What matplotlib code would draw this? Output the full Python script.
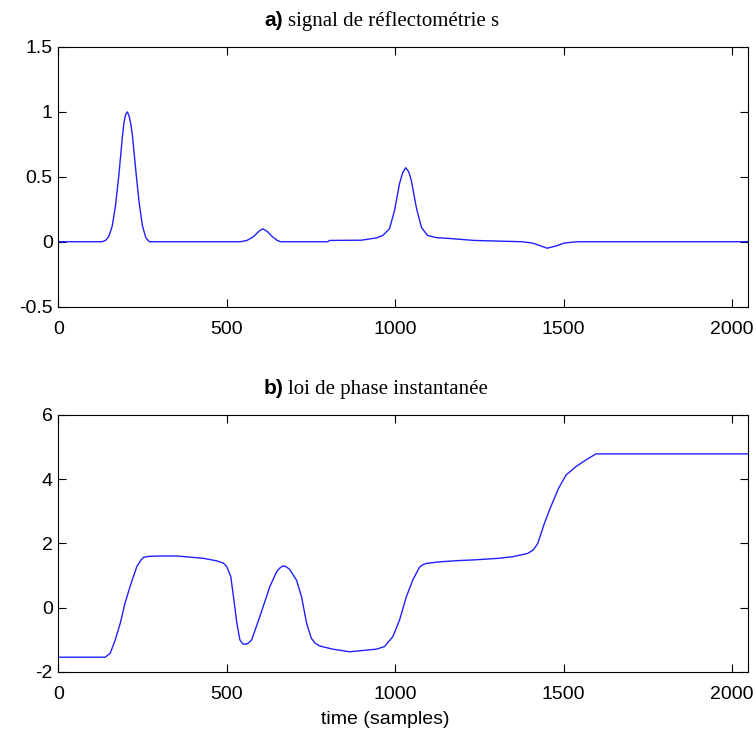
import matplotlib
matplotlib.use('Agg')
import matplotlib.pyplot as plt
import numpy as np

# ==========================================
# DATOS
# ==========================================
# a) signal de réflectométrie s
s_t = [0, 130, 140, 150, 160, 170, 180, 190, 195, 200, 205, 210, 215, 220, 230, 240, 250,
       260, 270,
       540, 560, 580, 595, 607, 620, 635, 650, 660, 800, 805, 900, 945, 963, 983, 998, 1013,
       1022, 1031, 1040, 1048, 1063, 1078, 1096, 1122, 1161, 1235, 1377, 1407, 1430, 1451,
       1481, 1502, 1540, 2048]
s_val = [0, 0, 0.01, 0.04, 0.12, 0.28, 0.52, 0.80, 0.92, 0.98, 1.0, 0.97, 0.91, 0.82, 0.55,
         0.30, 0.12, 0.03, 0.0,
         0.0, 0.01, 0.04, 0.08, 0.10, 0.08, 0.04, 0.01, 0.0, 0.0, 0.01, 0.012, 0.03, 0.048,
         0.10, 0.24, 0.45,
         0.53, 0.57, 0.54, 0.47, 0.26, 0.11, 0.048, 0.032, 0.025, 0.01, 0.0, -0.01, -0.03,
         -0.05, -0.03, -0.01, 0.0, 0.0]

# b) loi de phase instantanée
p_t = [0, 139, 154, 169, 184, 198, 213, 233, 245, 253, 270, 302, 352, 430, 470, 490, 500,
       512, 520, 530, 539, 547, 554, 563, 574, 598, 628, 648, 658, 666, 676, 687, 707, 722,
       737, 751, 762, 776, 815, 865, 944, 968, 993, 1013, 1033, 1052, 1072, 1082, 1092,
       1132, 1191, 1235, 1309, 1349, 1393, 1410, 1423, 1443, 1462, 1485, 1507, 1536, 1566,
       1596, 2048]
p_val = [-1.54, -1.54, -1.42, -1.0, -0.48, 0.14, 0.66, 1.28, 1.48, 1.57, 1.60, 1.61, 1.61,
         1.54, 1.46, 1.39, 1.28, 0.97, 0.34, -0.48, -1.0, -1.12, -1.14, -1.11, -1.0, -0.28,
         0.66, 1.12, 1.24, 1.30, 1.28, 1.19, 0.86, 0.34, -0.48, -0.95, -1.10, -1.19, -1.29,
         -1.37, -1.29, -1.21, -0.90, -0.38, 0.34, 0.86, 1.26, 1.34, 1.38, 1.43, 1.47, 1.49,
         1.54, 1.59, 1.69, 1.80, 2.0, 2.63, 3.15, 3.72, 4.13, 4.39, 4.60, 4.79, 4.79]

x_ticks = [0, 500, 1000, 1500, 2000]
s_ticks = [-0.5, 0, 0.5, 1, 1.5]
s_ticklabels = ['-0.5', '0', '0.5', '1', '1.5']
p_ticks = [-2, 0, 2, 4, 6]

# ==========================================
# FIGURA
# ==========================================
fuente = ['Liberation Sans', 'DejaVu Sans']
fig = plt.figure(figsize=(7.56, 7.40), dpi=100)
ax1 = fig.add_axes([0.0771, 0.5856, 0.9127, 0.3509])
ax2 = fig.add_axes([0.0771, 0.0919, 0.9127, 0.3473])


def estilo(ax, yticks, ylabels, ylim):
    ax.set_xlim(0, 2048)
    ax.set_ylim(*ylim)
    ax.set_xticks(x_ticks)
    ax.set_xticklabels([str(v) for v in x_ticks], family=fuente, fontsize=14)
    ax.set_yticks(yticks)
    ax.set_yticklabels(ylabels, family=fuente, fontsize=14)
    ax.tick_params(direction='in', top=True, right=True, length=6, width=0.8)
    ax.tick_params(axis='x', pad=10)
    ax.tick_params(axis='y', pad=4)
    for sp in ax.spines.values():
        sp.set_linewidth(0.8)


ax1.plot(s_t, s_val, color='#2020ff', linewidth=1.0)
estilo(ax1, s_ticks, s_ticklabels, (-0.5, 1.5))

ax2.plot(p_t, p_val, color='#2020ff', linewidth=1.0)
estilo(ax2, p_ticks, [str(v) for v in p_ticks], (-2, 6))

# títulos: "a)" en sans negrita + texto en serif
for ax, letra, texto in [(ax1, 'a)', 'signal de réflectométrie s'),
                         (ax2, 'b)', 'loi de phase instantanée')]:
    ax.text(0.326, 1.08, letra, transform=ax.transAxes, ha='right', va='baseline',
            family=fuente, fontweight='bold', fontsize=15)
    ax.text(0.333, 1.08, texto, transform=ax.transAxes, ha='left', va='baseline',
            family=['Liberation Serif', 'DejaVu Serif'], fontsize=15)

ax2.set_xlabel('time (samples)', family=fuente, fontsize=14)
ax2.xaxis.set_label_coords(0.474, -0.15)

fig.savefig('out.png', dpi=100)
